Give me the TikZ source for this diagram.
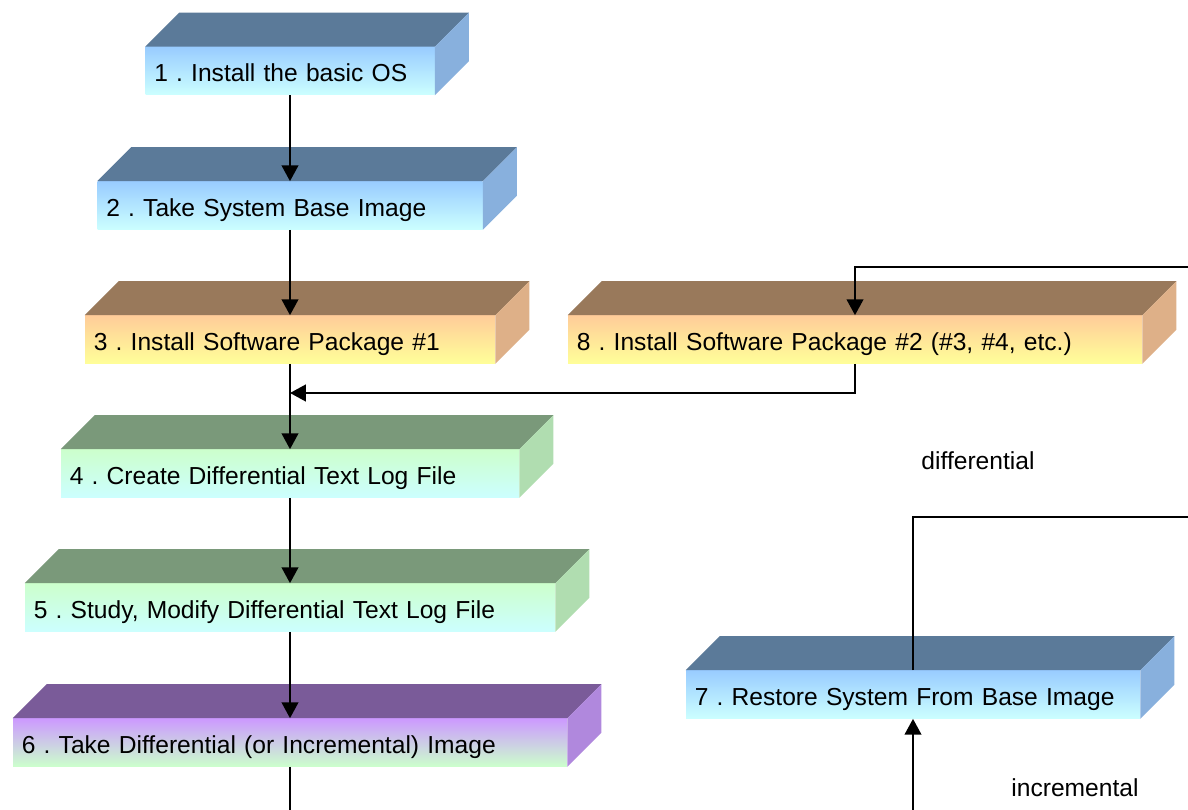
\documentclass[tikz,border=0pt]{standalone}
\usepackage{fontspec}
\setmainfont{Liberation Sans}
\usetikzlibrary{arrows.meta}
\frenchspacing

\definecolor{hiblue}{RGB}{153,204,255}
\definecolor{loblue}{RGB}{204,255,255}
\definecolor{topblue}{RGB}{91,122,153}
\definecolor{sideblue}{RGB}{136,176,221}
\definecolor{hitan}{RGB}{255,204,153}
\definecolor{lotan}{RGB}{255,255,153}
\definecolor{toptan}{RGB}{153,121,91}
\definecolor{sidetan}{RGB}{222,176,136}
\definecolor{higreen}{RGB}{204,255,204}
\definecolor{logreen}{RGB}{204,255,255}
\definecolor{topgreen}{RGB}{122,153,122}
\definecolor{sidegreen}{RGB}{176,221,176}
\definecolor{hipurple}{RGB}{204,153,255}
\definecolor{lopurple}{RGB}{204,255,204}
\definecolor{toppurple}{RGB}{122,91,153}
\definecolor{sidepurple}{RGB}{176,136,221}

\tikzstyle{front}=[rectangle,minimum height=0.96cm,inner sep=5pt,align=left,text height=13pt,text depth=1pt,font=\fontsize{14}{17}\selectfont]
\tikzstyle{bluebox}=[front,top color=hiblue,bottom color=loblue]
\tikzstyle{tanbox}=[front,top color=hitan,bottom color=lotan]
\tikzstyle{greenbox}=[front,top color=higreen,bottom color=logreen]
\tikzstyle{purplebox}=[front,top color=hipurple,bottom color=lopurple]
\tikzstyle{wire}=[line width=1.1pt]
\tikzstyle{link}=[wire,-{Triangle[length=9pt,width=9.5pt]}]
\tikzstyle{tag}=[font=\fontsize{14}{17}\selectfont]

\begin{document}
\begin{tikzpicture}
	\useasboundingbox (0,0) rectangle (23.76,-16.2);
	%Blue boxes
	\foreach \pos/\name/\boxw/\txt [evaluate=\boxw as \tw using \boxw*28.45274-10] in
		{{(5.80,-1.42)/b1/5.78/{1 . Install the basic OS}},
		 {(5.80,-4.11)/b2/7.70/{2 . Take System Base Image}},
		 {(18.26,-13.89)/b7/9.08/{7 . Restore System From Base Image}}}
	\node[bluebox,minimum width=\boxw cm,text width=\tw pt] (\name) at \pos {\txt};
	%Tan boxes
	\foreach \pos/\name/\boxw/\txt [evaluate=\boxw as \tw using \boxw*28.45274-10] in
		{{(5.80,-6.79)/b3/8.20/{3 . Install Software Package \#1}},
		 {(17.10,-6.79)/b8/11.48/{8 . Install Software Package \#2 (\#3, \#4, etc.)}}}
	\node[tanbox,minimum width=\boxw cm,text width=\tw pt] (\name) at \pos {\txt};
	%Green boxes
	\foreach \pos/\name/\boxw/\txt [evaluate=\boxw as \tw using \boxw*28.45274-10] in
		{{(5.80,-9.47)/b4/9.16/{4 . Create Differential Text Log File}},
		 {(5.80,-12.15)/b5/10.60/{5 . Study, Modify Differential Text Log File}}}
	\node[greenbox,minimum width=\boxw cm,text width=\tw pt] (\name) at \pos {\txt};
	%Purple box
	\foreach \pos/\name/\boxw/\txt [evaluate=\boxw as \tw using \boxw*28.45274-10] in
		{{(5.80,-14.85)/b6/11.08/{6 . Take Differential (or Incremental) Image}}}
	\node[purplebox,minimum width=\boxw cm,text width=\tw pt] (\name) at \pos {\txt};
	%Top and side faces
	\foreach \name/\tone in {b1/blue, b2/blue, b7/blue, b3/tan, b8/tan, b4/green, b5/green, b6/purple}
	{
		\fill[fill=top\tone] (\name.north west) -- ++(0.68,0.68) -- ([shift={(0.68,0.68)}]\name.north east) -- (\name.north east) -- cycle;
		\fill[fill=side\tone] (\name.north east) -- ++(0.68,0.68) -- ([shift={(0.68,0.68)}]\name.south east) -- (\name.south east) -- cycle;
	}
	%Loose ends
	\coordinate (j8) at (5.80,-7.86);
	\coordinate (in8) at (23.76,-5.34);
	\coordinate (out7) at (23.76,-10.34);
	\coordinate (in7) at (18.26,-16.2);
	\coordinate (out6) at (5.80,-16.2);
	%Connectors
	\foreach \from/\to in {b1/b2, b2/b3, b3/b4, b4/b5, b5/b6}
	\draw[link] (\from) -- (\to);
	\draw[link] (b8.south) |- (j8);
	\draw[link] (in8) -| (b8.north);
	\draw[wire] (b7.north) |- (out7);
	\draw[link] (in7) -- (b7.south);
	\draw[wire] (b6.south) -- (out6);
	%Labels
	\node[tag] (dif) at (19.56,-9.22) {differential};
	\node[tag] (inc) at (21.50,-15.76) {incremental};
\end{tikzpicture}
\end{document}
